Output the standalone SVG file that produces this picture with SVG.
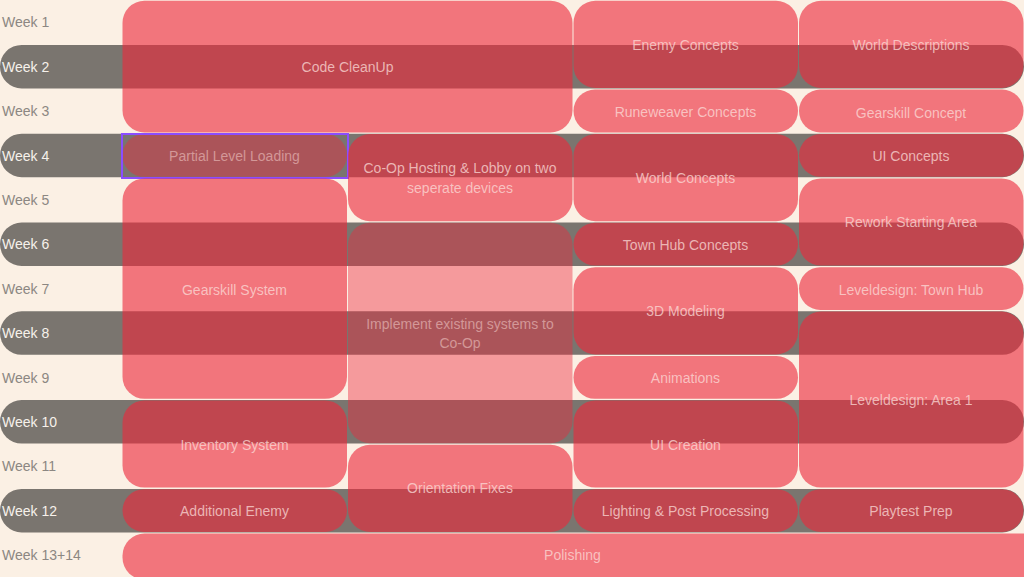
<svg xmlns="http://www.w3.org/2000/svg" width="1024" height="577" viewBox="0 0 1024 577">
<style>
  .bg{fill:#fbf0e4}
  .band{fill:#7a756f}
  .box{fill:#ec2a3c;fill-opacity:0.62}
  .lite{fill:#ec2a3c;fill-opacity:0.43}
  text{font-family:"Liberation Sans",Arial,sans-serif;font-size:14px}
  .t{fill:#fbdcd8;fill-opacity:0.75;text-anchor:middle;dominant-baseline:central}
  .tl{fill:#fbdcd8;fill-opacity:0.5;text-anchor:middle;dominant-baseline:central}
  .wk{fill:#8c8782;dominant-baseline:central}
  .wkd{fill:#f6f1eb;dominant-baseline:central}
</style>
<rect class="bg" x="0" y="0" width="1024" height="577"/>
<g id="bands">
  <rect class="band" x="0" y="44.9" width="1024" height="43.5" rx="21.7"/>
  <rect class="band" x="0" y="133.7" width="1024" height="43.5" rx="21.7"/>
  <rect class="band" x="0" y="222.5" width="1024" height="43.5" rx="21.7"/>
  <rect class="band" x="0" y="311.3" width="1024" height="43.5" rx="21.7"/>
  <rect class="band" x="0" y="400.1" width="1024" height="43.5" rx="21.7"/>
  <rect class="band" x="0" y="488.9" width="1024" height="43.5" rx="21.7"/>
</g>
<g id="weeks">
  <text class="wk" x="2" y="22">Week 1</text>
  <text class="wkd" x="2" y="67">Week 2</text>
  <text class="wk" x="2" y="111">Week 3</text>
  <text class="wkd" x="2" y="156">Week 4</text>
  <text class="wk" x="2" y="200">Week 5</text>
  <text class="wkd" x="2" y="244">Week 6</text>
  <text class="wk" x="2" y="289">Week 7</text>
  <text class="wkd" x="2" y="333">Week 8</text>
  <text class="wk" x="2" y="378">Week 9</text>
  <text class="wkd" x="2" y="422">Week 10</text>
  <text class="wk" x="2" y="466">Week 11</text>
  <text class="wkd" x="2" y="511">Week 12</text>
  <text class="wk" x="2" y="555">Week 13+14</text>
</g>
<g id="code-cleanup"><rect class="box" x="122.5" y="0.8" width="450" height="131.6" rx="22"/><text class="t" x="347.5" y="67">Code CleanUp</text></g>
<g id="partial-level-loading"><rect class="lite" x="122.5" y="134" width="224.5" height="42.8" rx="21.4"/><rect x="122" y="134" width="226" height="44" fill="none" stroke="#8b4dff" stroke-width="2"/><text class="tl" x="234.5" y="156">Partial Level Loading</text></g>
<g id="coop-hosting"><rect class="box" x="348" y="134" width="224.5" height="87.2" rx="22"/><text class="t" x="460" y="168">Co-Op Hosting &amp; Lobby on two</text><text class="t" x="460" y="188">seperate devices</text></g>
<g id="gearskill-system"><rect class="box" x="122.5" y="178.4" width="224.5" height="220.4" rx="22"/><text class="t" x="234.5" y="290">Gearskill System</text></g>
<g id="implement-coop"><rect class="lite" x="348" y="222.8" width="224.5" height="220.4" rx="22"/><text class="tl" x="460" y="324">Implement existing systems to</text><text class="tl" x="460" y="343">Co-Op</text></g>
<g id="inventory-system"><rect class="box" x="122.5" y="400.4" width="224.5" height="87.2" rx="22"/><text class="t" x="234.5" y="445">Inventory System</text></g>
<g id="additional-enemy"><rect class="box" x="122.5" y="489.2" width="224.5" height="42.8" rx="21.4"/><text class="t" x="234.5" y="511">Additional Enemy</text></g>
<g id="orientation-fixes"><rect class="box" x="348" y="444.8" width="224.5" height="87.2" rx="22"/><text class="t" x="460" y="488">Orientation Fixes</text></g>
<g id="polishing"><rect class="box" x="122.5" y="533.6" width="930" height="46" rx="22"/><text class="t" x="572.5" y="555">Polishing</text></g>
<g id="enemy-concepts"><rect class="box" x="573.5" y="0.8" width="224.5" height="87.2" rx="22"/><text class="t" x="685.5" y="45">Enemy Concepts</text></g>
<g id="runeweaver-concepts"><rect class="box" x="573.5" y="89.6" width="224.5" height="42.8" rx="21.4"/><text class="t" x="685.5" y="112">Runeweaver Concepts</text></g>
<g id="world-concepts"><rect class="box" x="573.5" y="134" width="224.5" height="87.2" rx="22"/><text class="t" x="685.5" y="178">World Concepts</text></g>
<g id="town-hub-concepts"><rect class="box" x="573.5" y="222.8" width="224.5" height="42.8" rx="21.4"/><text class="t" x="685.5" y="245">Town Hub Concepts</text></g>
<g id="3d-modeling"><rect class="box" x="573.5" y="267.2" width="224.5" height="87.2" rx="22"/><text class="t" x="685.5" y="311">3D Modeling</text></g>
<g id="animations"><rect class="box" x="573.5" y="356" width="224.5" height="42.8" rx="21.4"/><text class="t" x="685.5" y="378">Animations</text></g>
<g id="ui-creation"><rect class="box" x="573.5" y="400.4" width="224.5" height="87.2" rx="22"/><text class="t" x="685.5" y="445">UI Creation</text></g>
<g id="lighting"><rect class="box" x="573.5" y="489.2" width="224.5" height="42.8" rx="21.4"/><text class="t" x="685.5" y="511">Lighting &amp; Post Processing</text></g>
<g id="world-descriptions"><rect class="box" x="799" y="0.8" width="224.5" height="87.2" rx="22"/><text class="t" x="911" y="45">World Descriptions</text></g>
<g id="gearskill-concept"><rect class="box" x="799" y="89.6" width="224.5" height="42.8" rx="21.4"/><text class="t" x="911" y="113">Gearskill Concept</text></g>
<g id="ui-concepts"><rect class="box" x="799" y="134" width="224.5" height="42.8" rx="21.4"/><text class="t" x="911" y="156">UI Concepts</text></g>
<g id="rework-starting-area"><rect class="box" x="799" y="178.4" width="224.5" height="87.2" rx="22"/><text class="t" x="911" y="222">Rework Starting Area</text></g>
<g id="leveldesign-town-hub"><rect class="box" x="799" y="267.2" width="224.5" height="42.8" rx="21.4"/><text class="t" x="911" y="290">Leveldesign: Town Hub</text></g>
<g id="leveldesign-area-1"><rect class="box" x="799" y="311.6" width="224.5" height="176" rx="22"/><text class="t" x="911" y="400">Leveldesign: Area 1</text></g>
<g id="playtest-prep"><rect class="box" x="799" y="489.2" width="224.5" height="42.8" rx="21.4"/><text class="t" x="911" y="511">Playtest Prep</text></g>
</svg>
